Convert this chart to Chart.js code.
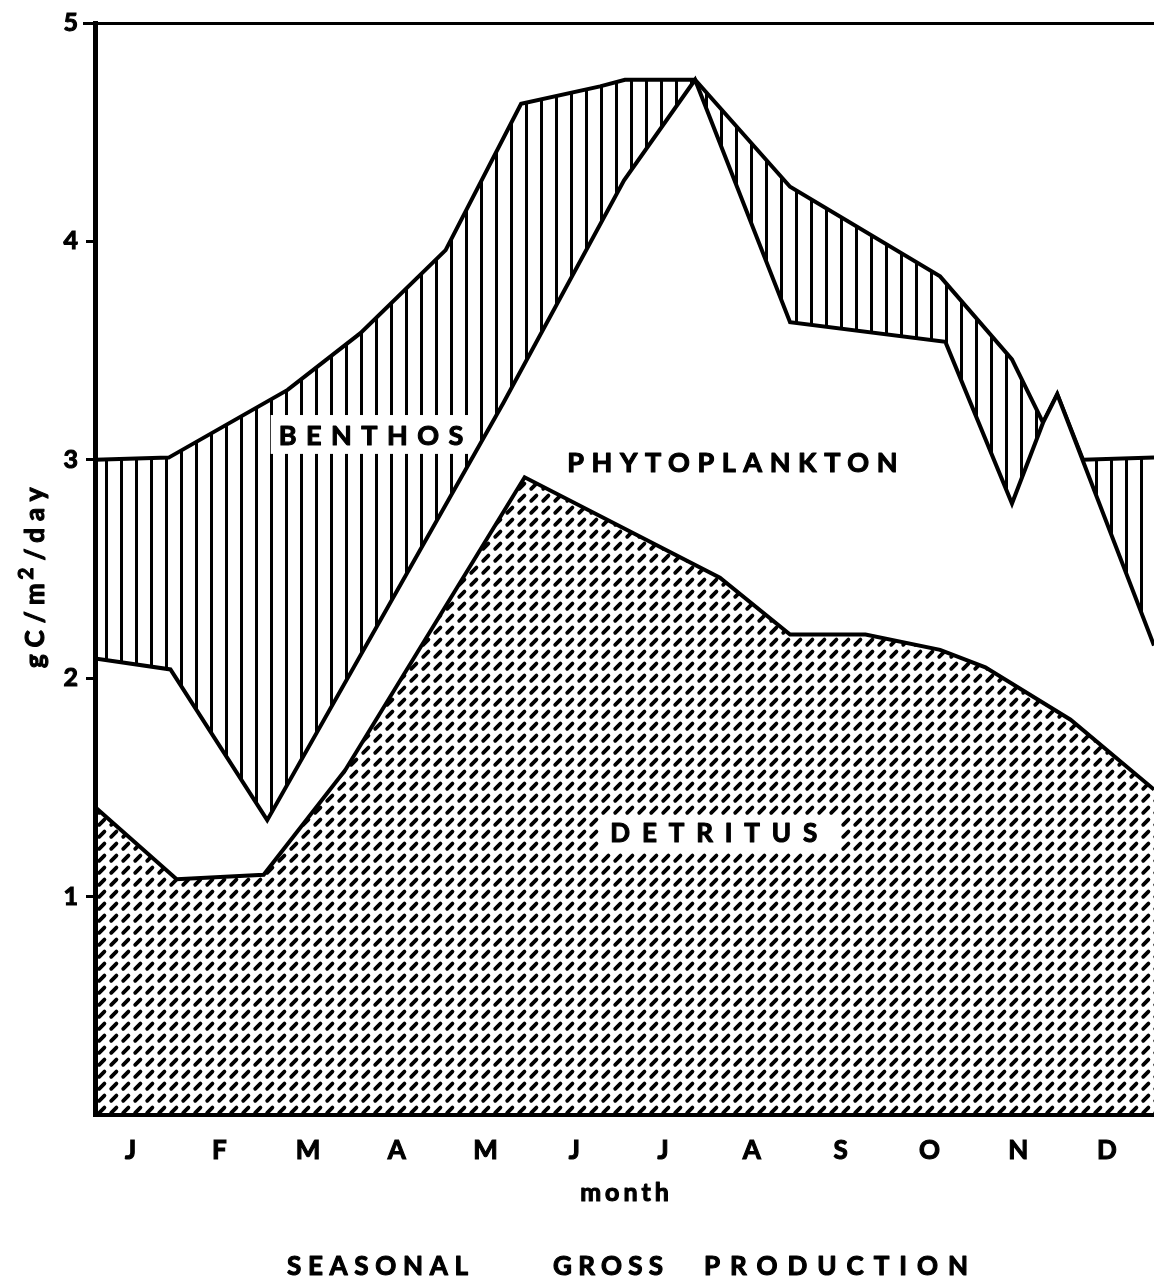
<!DOCTYPE html>
<html>
<head>
<meta charset="utf-8">
<script src="https://cdn.jsdelivr.net/npm/chart.js@4/dist/chart.umd.min.js"></script>
<style>
  html, body { margin: 0; padding: 0; background: #fff; }
  canvas { display: block; }
</style>
</head>
<body>
<canvas id="chart" width="1154" height="1282"></canvas>
<script>
// Month initials along the bottom axis (ticks sit at mid-month)
const months = ['J', 'F', 'M', 'A', 'M', 'J', 'J', 'A', 'S', 'O', 'N', 'D'];
const yTickValues = [0, 1, 2, 3, 4, 5];

// Detritus production (lowest band), g C / m2 / day
const detritusX = [0.1, 1.02, 2.0, 2.92, 4.94, 7.14, 7.93, 8.78, 9.62, 10.13, 11.09, 12.03];
const detritusY = [1.41, 1.08, 1.10, 1.58, 2.92, 2.46, 2.20, 2.20, 2.13, 2.05, 1.81, 1.49];

// Detritus + phytoplankton
const phytoX = [0.1, 0.95, 2.04, 4.70, 6.06, 6.86, 7.93, 9.68, 10.43, 10.78, 10.94, 12.03];
const phytoY = [2.09, 2.04, 1.35, 3.26, 4.28, 4.74, 3.63, 3.54, 2.80, 3.17, 3.30, 2.15];

// Detritus + phytoplankton + benthos (total gross production)
const benthosX = [0.1, 0.93, 2.27, 3.09, 4.05, 4.90, 5.79, 6.07, 6.86, 7.93, 9.62, 10.43, 10.78, 10.94, 11.23, 12.03];
const benthosY = [3.00, 3.01, 3.32, 3.58, 3.96, 4.63, 4.71, 4.74, 4.74, 4.25, 3.84, 3.46, 3.17, 3.30, 3.00, 3.01];

const FONT = 'Lato, "Open Sans", "DejaVu Sans", sans-serif';
const WEIGHT = 'bold';
const INK = 1.1; // extra outline that thickens the lettering

function points(xs, ys) {
  return xs.map((x, i) => ({ x: x, y: ys[i] }));
}

// Short slanted dashes used for the detritus band
function dashPattern() {
  const c = document.createElement('canvas');
  c.width = 12; c.height = 12;
  const g = c.getContext('2d');
  g.fillStyle = '#fff';
  g.fillRect(0, 0, 12, 12);
  g.strokeStyle = '#000';
  g.lineWidth = 3.8;
  g.lineCap = 'round';
  g.beginPath();
  g.moveTo(3.2, 8.8);
  g.lineTo(8.4, 3.6);
  g.stroke();
  return g.createPattern(c, 'repeat');
}

// Vertical rules used for the benthos band
function rulePattern() {
  const c = document.createElement('canvas');
  c.width = 15; c.height = 15;
  const g = c.getContext('2d');
  g.fillStyle = '#fff';
  g.fillRect(0, 0, 15, 15);
  g.fillStyle = '#000';
  g.fillRect(0, 0, 3, 15);
  return g.createPattern(c, 'repeat');
}

function inkText(ctx, text, x, y) {
  ctx.lineWidth = INK;
  ctx.strokeStyle = '#000';
  ctx.lineJoin = 'round';
  ctx.strokeText(text, x, y);
  ctx.fillText(text, x, y);
}

// Letter-spaced capitals stretched between two x positions, centred on cy
function spacedText(ctx, text, x0, x1, cy, size) {
  ctx.save();
  ctx.font = WEIGHT + ' ' + size + 'px ' + FONT;
  ctx.letterSpacing = '0px';
  const w = ctx.measureText(text).width;
  const n = Array.from(text).length;
  const sp = n > 1 ? (x1 - x0 - w) / (n - 1) : 0;
  ctx.letterSpacing = sp + 'px';
  ctx.fillStyle = '#000';
  ctx.textAlign = 'left';
  ctx.textBaseline = 'alphabetic';
  inkText(ctx, text, x0, cy + size * 0.36);
  ctx.restore();
}

const bandLabels = {
  id: 'bandLabels',
  beforeDraw(chart) {
    const ctx = chart.ctx;
    ctx.save();
    ctx.fillStyle = '#fff';
    ctx.fillRect(0, 0, chart.width, chart.height);
    ctx.restore();
  },
  afterDatasetsDraw(chart) {
    const ctx = chart.ctx;
    const xs = chart.scales.x, ys = chart.scales.y;
    const px = v => xs.getPixelForValue(v);
    const py = v => ys.getPixelForValue(v);

    // white boxes behind the labels that sit on patterned bands
    ctx.save();
    ctx.fillStyle = '#fff';
    ctx.fillRect(px(2.08), py(3.205), px(4.31) - px(2.08), py(3.027) - py(3.205));
    ctx.fillRect(px(5.79), py(1.37), px(8.50) - px(5.79), py(1.205) - py(1.37));
    ctx.restore();

    spacedText(ctx, 'BENTHOS', px(2.17), px(4.25), py(3.114), 27);
    spacedText(ctx, 'PHYTOPLANKTON', px(5.42), px(9.14), py(2.99), 27);
    spacedText(ctx, 'DETRITUS', px(5.905), px(8.236), py(1.292), 26);
  },
  afterDraw(chart) {
    const ctx = chart.ctx;
    const area = chart.chartArea;

    // frame line along the top of the plot
    ctx.save();
    ctx.strokeStyle = '#000';
    ctx.lineWidth = 3;
    ctx.beginPath();
    ctx.moveTo(area.left - 12, area.top + 0.5);
    ctx.lineTo(chart.width, area.top + 0.5);
    ctx.stroke();
    ctx.restore();

    // horizontal axis title
    ctx.save();
    ctx.font = WEIGHT + ' 25px ' + FONT;
    ctx.letterSpacing = '0px';
    const wm = ctx.measureText('month').width + 4 * 4;
    ctx.letterSpacing = '4px';
    ctx.fillStyle = '#000';
    ctx.textAlign = 'left';
    ctx.textBaseline = 'alphabetic';
    inkText(ctx, 'month', (area.left + area.right) / 2 - wm / 2, 1201);
    ctx.restore();

    // figure caption
    spacedText(ctx, 'SEASONAL', 287, 468, 1266, 26);
    spacedText(ctx, 'GROSS', 553, 663, 1266, 26);
    spacedText(ctx, 'PRODUCTION', 704, 968, 1266, 26);

    // vertical axis title with a raised exponent, stretched over a fixed length
    ctx.save();
    ctx.translate(44, 668);
    ctx.rotate(-Math.PI / 2);
    ctx.fillStyle = '#000';
    ctx.textAlign = 'left';
    ctx.textBaseline = 'alphabetic';
    const big = WEIGHT + ' 26px ' + FONT;
    const small = WEIGHT + ' 21px ' + FONT;
    const a = 'gC/m', b = '2', c = '/day';
    ctx.letterSpacing = '0px';
    ctx.font = big;
    const wa = ctx.measureText(a).width, wc = ctx.measureText(c).width;
    ctx.font = small;
    const wb = ctx.measureText(b).width;
    const total = 184;
    const sp = (total - wa - wb - wc) / 8;
    ctx.letterSpacing = sp + 'px';
    ctx.font = big;
    inkText(ctx, a, 0, 0);
    let x = wa + sp * 4;
    ctx.font = small;
    inkText(ctx, b, x - sp * 0.5, -11);
    x += wb + sp * 0.5;
    ctx.font = big;
    inkText(ctx, c, x, 0);
    ctx.restore();
  }
};

const ctx = document.getElementById('chart').getContext('2d');

new Chart(ctx, {
  type: 'line',
  data: {
    datasets: [
      {
        label: 'Detritus',
        data: points(detritusX, detritusY),
        borderColor: '#000',
        borderWidth: 4,
        backgroundColor: dashPattern(),
        fill: 'origin',
        pointRadius: 0,
        tension: 0
      },
      {
        label: 'Phytoplankton',
        data: points(phytoX, phytoY),
        borderColor: '#000',
        borderWidth: 4,
        backgroundColor: '#fff',
        fill: 'origin',
        pointRadius: 0,
        tension: 0
      },
      {
        label: 'Benthos',
        data: points(benthosX, benthosY),
        borderColor: '#000',
        borderWidth: 4,
        backgroundColor: rulePattern(),
        fill: 'origin',
        pointRadius: 0,
        tension: 0
      }
    ]
  },
  options: {
    responsive: false,
    animation: false,
    devicePixelRatio: 1,
    layout: { padding: { top: 20, left: 0, right: 0, bottom: 0 } },
    plugins: {
      legend: { display: false },
      tooltip: { enabled: false },
      title: { display: false }
    },
    scales: {
      x: {
        type: 'linear',
        position: 'bottom',
        min: 0.1,
        max: 12.03,
        grid: { display: false, drawTicks: false },
        border: { display: true, color: '#000', width: 4, z: 1 },
        afterBuildTicks(scale) {
          scale.ticks = months.map((m, i) => ({ value: i + 0.5 }));
        },
        ticks: {
          autoSkip: false,
          maxRotation: 0,
          padding: 20,
          color: '#000',
          textStrokeColor: '#000',
          textStrokeWidth: INK,
          z: 1,
          font: { family: FONT, size: 26, weight: WEIGHT },
          callback: (v, i) => months[i]
        },
        title: { display: false },
        afterFit(scale) { scale.height = 167; }
      },
      y: {
        type: 'linear',
        min: 0,
        max: 5,
        afterBuildTicks(scale) {
          scale.ticks = yTickValues.map(v => ({ value: v }));
        },
        grid: {
          display: true,
          drawOnChartArea: false,
          drawTicks: true,
          tickLength: 9,
          lineWidth: 3,
          color: c => (c.tick && c.tick.value === 0) ? 'rgba(0,0,0,0)' : '#000'
        },
        border: { display: true, color: '#000', width: 5, z: 1 },
        ticks: {
          padding: 8,
          color: '#000',
          textStrokeColor: '#000',
          textStrokeWidth: INK,
          z: 1,
          font: { family: FONT, size: 25, weight: WEIGHT },
          callback: v => (v === 0 ? '' : String(v))
        },
        afterFit(scale) { scale.width = 95; }
      }
    }
  },
  plugins: [bandLabels]
});
</script>
</body>
</html>
